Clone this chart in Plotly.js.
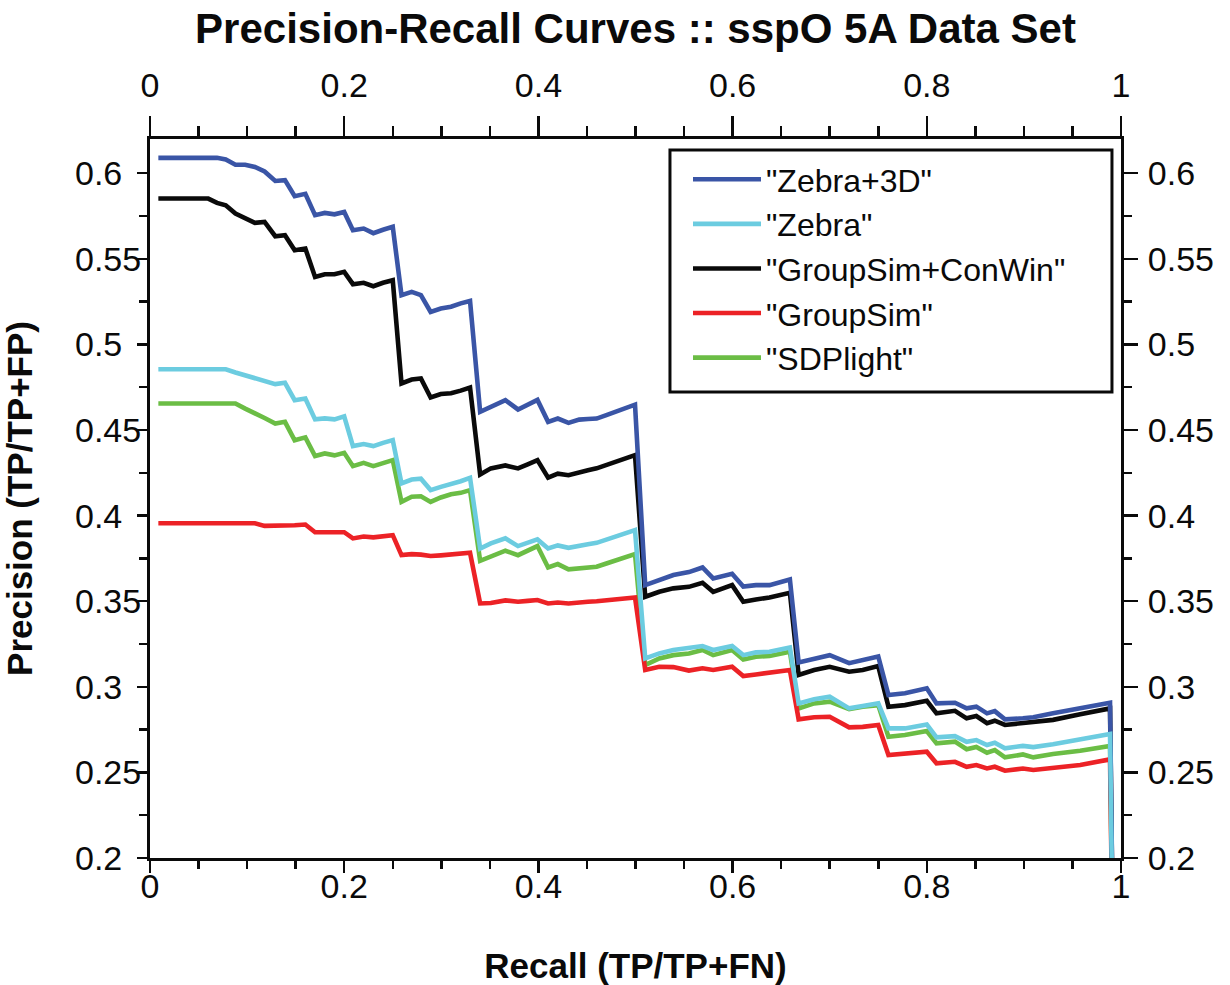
<!DOCTYPE html>
<html>
<head>
<meta charset="utf-8">
<script src="https://cdn.plot.ly/plotly-3.0.1.min.js"></script>
<style>html,body{margin:0;padding:0;background:#fff;}#chart{width:1230px;height:985px;}</style>
</head>
<body>
<div id="chart"></div>
<script>
// Shared recall values (x positions of the curve vertices)
const recall = [
  0.0086, 0.019, 0.029, 0.039, 0.049, 0.060, 0.069, 0.078, 0.088, 0.098,
  0.108, 0.118, 0.129, 0.139, 0.149, 0.160, 0.170, 0.180, 0.190, 0.200,
  0.209, 0.220, 0.230, 0.240, 0.250,
  0.259, 0.2695, 0.279, 0.289, 0.2995, 0.310, 0.320, 0.3296,
  0.340, 0.351, 0.366, 0.379, 0.389, 0.399, 0.410, 0.420, 0.431, 0.442, 0.451, 0.460, 0.470, 0.480, 0.490, 0.4995,
  0.510, 0.5245, 0.539, 0.555, 0.569, 0.580, 0.5995, 0.611, 0.624, 0.638, 0.659,
  0.668, 0.684, 0.700, 0.720, 0.734, 0.750,
  0.7605, 0.7775, 0.800, 0.810, 0.829, 0.841, 0.851, 0.862, 0.870, 0.8805, 0.899, 0.9097, 0.930, 0.958, 0.9887,
  0.995
];

const zebra3d = [
  0.609, 0.609, 0.609, 0.609, 0.609, 0.609, 0.609, 0.608, 0.605, 0.605,
  0.6037, 0.601, 0.5955, 0.596, 0.5866, 0.588, 0.5755, 0.5768, 0.576, 0.5774,
  0.5667, 0.5677, 0.565, 0.567, 0.5687,
  0.5288, 0.5307, 0.5288, 0.519, 0.521, 0.522, 0.524, 0.5254,
  0.4606, 0.4635, 0.4674, 0.462, 0.465, 0.4676, 0.4548, 0.4567, 0.4542, 0.4561, 0.4564, 0.4567, 0.4587, 0.4606, 0.4626, 0.4648,
  0.3594, 0.3623, 0.3653, 0.367, 0.3697, 0.3633, 0.366, 0.3586, 0.3594, 0.3594, 0.3627,
  0.3142, 0.3166, 0.3185, 0.3138, 0.3156, 0.3177,
  0.2952, 0.2962, 0.2991, 0.2903, 0.2907, 0.2874, 0.2884, 0.2845, 0.2858, 0.281, 0.2816, 0.2822, 0.2845, 0.2874, 0.2907,
  0
];

const zebra = [
  0.4855, 0.4855, 0.4855, 0.4855, 0.4855, 0.4855, 0.4855, 0.4855, 0.4836, 0.482,
  0.4807, 0.4785, 0.4768, 0.4776, 0.4674, 0.4684, 0.4562, 0.4568, 0.4562, 0.458,
  0.4406, 0.4418, 0.4406, 0.4425, 0.4441,
  0.4188, 0.4211, 0.4216, 0.4149, 0.4168, 0.4184, 0.4201, 0.4221,
  0.3808, 0.3838, 0.3867, 0.3822, 0.384, 0.3861, 0.3808, 0.3826, 0.3812, 0.3826, 0.3833, 0.3841, 0.3858, 0.3876, 0.3895, 0.3915,
  0.3166, 0.3195, 0.3215, 0.3224, 0.3238, 0.3215, 0.3238, 0.3185, 0.3201, 0.3205, 0.323,
  0.2903, 0.2927, 0.2942, 0.2874, 0.2888, 0.2903,
  0.2757, 0.2757, 0.278, 0.2705, 0.2712, 0.2679, 0.2689, 0.266, 0.2673, 0.2641, 0.2655, 0.2648, 0.2664, 0.2693, 0.2724,
  0
];

const groupSimConWin = [
  0.5852, 0.5852, 0.5852, 0.5852, 0.5852, 0.5852, 0.5827, 0.5813, 0.5765, 0.5735,
  0.571, 0.5716, 0.5632, 0.5638, 0.555, 0.556, 0.5394, 0.541, 0.541, 0.5424,
  0.5352, 0.536, 0.534, 0.536, 0.5375,
  0.4772, 0.4795, 0.4801, 0.469, 0.471, 0.4715, 0.473, 0.4748,
  0.424, 0.4276, 0.4293, 0.4276, 0.430, 0.4324, 0.4222, 0.4245, 0.4236, 0.4255, 0.4265, 0.4276, 0.4295, 0.4314, 0.4333, 0.4353,
  0.3526, 0.3555, 0.3575, 0.3584, 0.3608, 0.3555, 0.3594, 0.3497, 0.351, 0.3522, 0.3549,
  0.3069, 0.3098, 0.3117, 0.3088, 0.3098, 0.3121,
  0.2884, 0.2893, 0.2918, 0.2845, 0.286, 0.2816, 0.2829, 0.2787, 0.2802, 0.2777, 0.2787, 0.2796, 0.2807, 0.2839, 0.2874,
  0
];

const groupSim = [
  0.3955, 0.3955, 0.3955, 0.3955, 0.3955, 0.3955, 0.3955, 0.3955, 0.3955, 0.3955,
  0.3955, 0.394, 0.394, 0.3942, 0.3944, 0.3948, 0.3903, 0.3903, 0.39, 0.3903,
  0.3867, 0.3878, 0.3873, 0.388, 0.3886,
  0.3769, 0.3775, 0.3772, 0.3764, 0.3768, 0.3773, 0.3778, 0.3783,
  0.3487, 0.349, 0.3505, 0.3497, 0.3502, 0.3507, 0.3487, 0.3492, 0.3487, 0.3495, 0.3497, 0.35, 0.3505, 0.351, 0.3515, 0.3522,
  0.3098, 0.3117, 0.3115, 0.3095, 0.3108, 0.3098, 0.3117, 0.3063, 0.3072, 0.308, 0.3098,
  0.281, 0.2822, 0.2825, 0.2763, 0.2766, 0.2777,
  0.2601, 0.261, 0.2621, 0.2553, 0.2562, 0.2533, 0.2543, 0.2523, 0.2533, 0.251, 0.2523, 0.2514, 0.2525, 0.2543, 0.2576,
  0
];

const sdpLight = [
  0.4655, 0.4655, 0.4655, 0.4655, 0.4655, 0.4655, 0.4655, 0.4655, 0.4655, 0.4625,
  0.46, 0.457, 0.4538, 0.4548, 0.444, 0.4457, 0.4348, 0.4363, 0.4352, 0.4367,
  0.4289, 0.4308, 0.4289, 0.4305, 0.4324,
  0.408, 0.411, 0.4113, 0.408, 0.4106, 0.4125, 0.4133, 0.4149,
  0.3736, 0.3764, 0.3795, 0.3769, 0.3795, 0.3822, 0.3697, 0.3717, 0.3686, 0.369, 0.3695, 0.3701, 0.372, 0.374, 0.3757, 0.3775,
  0.3127, 0.3166, 0.3185, 0.3195, 0.3215, 0.3185, 0.3215, 0.316, 0.3176, 0.318, 0.3205,
  0.2874, 0.2903, 0.2913, 0.2869, 0.2884, 0.2893,
  0.2708, 0.2718, 0.2742, 0.267, 0.268, 0.2635, 0.2649, 0.2615, 0.263, 0.2588, 0.2605, 0.2588, 0.2607, 0.2626, 0.2654,
  0
];

const seriesNames = ['"Zebra+3D"', '"Zebra"', '"GroupSim+ConWin"', '"GroupSim"', '"SDPlight"'];
const seriesColors = ['#3a55a6', '#6ccce0', '#0a0a0a', '#ec2226', '#6bbd45'];
const seriesValues = [zebra3d, zebra, groupSimConWin, groupSim, sdpLight];
// drawing order (bottom to top)
const drawOrder = [4, 3, 2, 0, 1];

// y tick labels (left ones padded with a figure space so they line up on the left)
const yTickVals = [0.2, 0.25, 0.3, 0.35, 0.4, 0.45, 0.5, 0.55, 0.6];
const yTickText = ['0.2', '0.25', '0.3', '0.35', '0.4', '0.45', '0.5', '0.55', '0.6'];
const yTickTextLeft = yTickText.map(t => t.length === 3 ? t + '\u2007' : t);

const traces = drawOrder.map(i => ({
  type: 'scatter', mode: 'lines',
  x: recall, y: seriesValues[i],
  name: seriesNames[i],
  legendrank: i + 1,
  line: {color: seriesColors[i], width: 4.6},
  xaxis: 'x', yaxis: 'y'
}));
traces.push({type: 'scatter', mode: 'lines', x: [], y: [], xaxis: 'x2', yaxis: 'y2', showlegend: false, hoverinfo: 'skip'});

const FONT = 'Liberation Sans, Arial, Helvetica, sans-serif';
const INK = '#0a0a0a';
function axisBase(major) {
  return {
    ticks: 'outside', ticklen: major, tickwidth: 2.5, tickcolor: INK,
    showline: true, linewidth: 3, linecolor: INK,
    showgrid: false, zeroline: false, autorange: false,
    tickfont: {family: FONT, size: 34, color: INK}
  };
}
function xAxis(major, minorLen) {
  return Object.assign(axisBase(major), {
    range: [0, 1], tickmode: 'linear', tick0: 0, dtick: 0.2,
    minor: {tickmode: 'linear', tick0: 0, dtick: 0.05, ticks: 'outside', ticklen: minorLen, tickwidth: 2.5, tickcolor: INK, showgrid: false}
  });
}
function yAxis(major, minorLen, labels) {
  return Object.assign(axisBase(major), {
    range: [0.2, 0.62], tickmode: 'array', tickvals: yTickVals, ticktext: labels,
    minor: {tickmode: 'linear', tick0: 0.2, dtick: 0.025, ticks: 'outside', ticklen: minorLen, tickwidth: 2.5, tickcolor: INK, showgrid: false}
  });
}

const layout = {
  width: 1230, height: 985,
  margin: {l: 150, r: 109, t: 139, b: 127, pad: 0},
  paper_bgcolor: '#ffffff', plot_bgcolor: '#ffffff',
  font: {family: FONT, size: 30, color: INK},
  title: {
    text: 'Precision-Recall Curves :: sspO 5A Data Set',
    font: {family: FONT, size: 42, weight: 'bold', color: INK},
    x: 0.5, xref: 'paper', xanchor: 'center',
    y: 0.971, yref: 'container', yanchor: 'middle'
  },
  xaxis: Object.assign(xAxis(12, 8), {
    side: 'bottom', anchor: 'y',
    ticklabelstandoff: -16,
    title: {text: 'Recall (TP/TP+FN)', font: {family: FONT, size: 35, weight: 'bold', color: INK}, standoff: 56}
  }),
  xaxis2: Object.assign(xAxis(20, 10), {
    side: 'top', overlaying: 'x', anchor: 'y',
    ticklabelstandoff: 5
  }),
  yaxis: Object.assign(yAxis(10, 8, yTickTextLeft), {
    side: 'left', anchor: 'x',
    ticklabelstandoff: -11,
    title: {text: 'Precision (TP/TP+FP)', font: {family: FONT, size: 35, weight: 'bold', color: INK}, standoff: 40}
  }),
  yaxis2: Object.assign(yAxis(14, 8, yTickText), {
    side: 'right', overlaying: 'y', anchor: 'x',
    ticklabelstandoff: 3
  }),
  legend: {
    x: (688 - 150) / 971, y: 0.982, xanchor: 'left', yanchor: 'top',
    bgcolor: 'rgba(0,0,0,0)', borderwidth: 0,
    font: {family: FONT, size: 32, color: INK},
    itemwidth: 68, tracegroupgap: 0
  },
  shapes: [{
    type: 'rect', xref: 'paper', yref: 'paper',
    x0: 0.5355, x1: 0.9907, y0: 0.648, y1: 0.9847,
    line: {color: INK, width: 3}, fillcolor: '#ffffff', layer: 'above'
  }],
  showlegend: true
};

Plotly.newPlot('chart', traces, layout, {displayModeBar: false, staticPlot: true});
</script>
</body>
</html>
